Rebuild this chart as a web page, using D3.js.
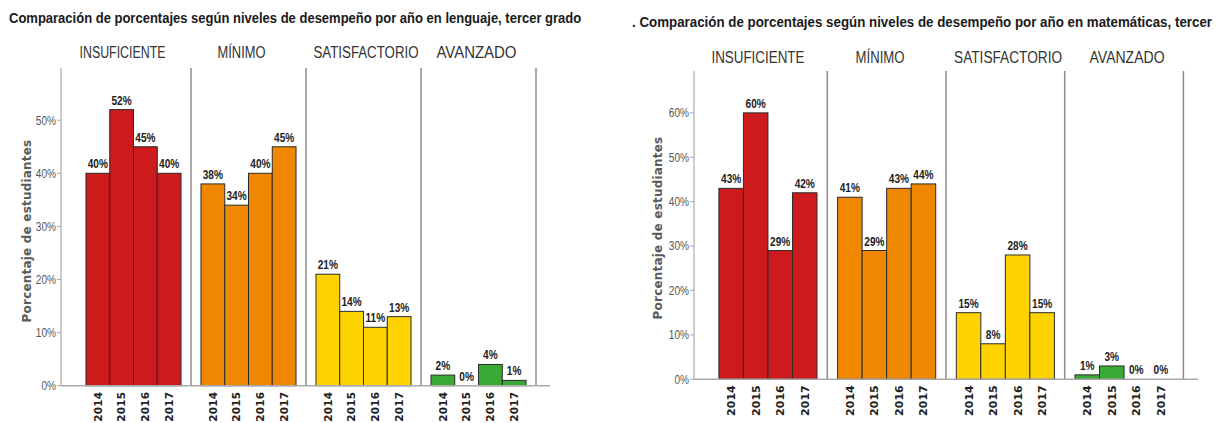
<!DOCTYPE html>
<html>
<head>
<meta charset="utf-8">
<script src="https://cdn.jsdelivr.net/npm/d3@7"></script>
<style>
  html, body { margin: 0; padding: 0; background: #fff; }
  svg { display: block; }
</style>
</head>
<body>
<script>
// ---------------- DATA ----------------
const years = ["2014", "2015", "2016", "2017"];
const levels = ["INSUFICIENTE", "MÍNIMO", "SATISFACTORIO", "AVANZADO"];
const levelColors = ["#CC1A1D", "#EF8800", "#FFD300", "#3AAA35"];

// Lenguaje, tercer grado (percent)
const lenguajeInsuficiente = [40, 52, 45, 40];
const lenguajeMinimo = [38, 34, 40, 45];
const lenguajeSatisfactorio = [21, 14, 11, 13];
const lenguajeAvanzado = [2, 0, 4, 1];

// Matemáticas, tercer grado (percent)
const matInsuficiente = [43, 60, 29, 42];
const matMinimo = [41, 29, 43, 44];
const matSatisfactorio = [15, 8, 28, 15];
const matAvanzado = [1, 3, 0, 0];

const yTicksLenguaje = [0, 10, 20, 30, 40, 50];
const yTicksMat = [0, 10, 20, 30, 40, 50, 60];

const titleLenguaje = "Comparación de porcentajes según niveles de desempeño por año en lenguaje, tercer grado";
const titleMat = ". Comparación de porcentajes según niveles de desempeño por año en matemáticas, tercer";
const yAxisTitle = "Porcentaje de estudiantes";

// ---------------- LAYOUT ----------------
const W = 1222, H = 423;
const svg = d3.select("body").append("svg").attr("width", W).attr("height", H);

const charts = [
  {
    series: [lenguajeInsuficiente, lenguajeMinimo, lenguajeSatisfactorio, lenguajeAvanzado],
    ticks: yTicksLenguaje, yMax: 60,
    title: titleLenguaje, titleX: 9, titleY: 23, titleW: 573,
    axisX: 61, panelStart: 76, panelW: 115, xEnd: 550,
    y0: 385.7, yTop: 67.1, lineTop: 68,
    stripY: 58, stripOffsets: [-11, -7, 2.5, -2], stripW: [86, 48, 105, 80],
    yTitleX: 27, yTitleY: 231,
    xLabelSize: 10.5, xLabelSpacing: 0.2
  },
  {
    series: [matInsuficiente, matMinimo, matSatisfactorio, matAvanzado],
    ticks: yTicksMat, yMax: 69,
    title: titleMat, titleX: 632, titleY: 27, titleW: 581,
    axisX: 694, panelStart: 708.6, panelW: 118.7, xEnd: 1198,
    y0: 379.3, yTop: 72.9, lineTop: 71,
    stripY: 63, stripOffsets: [-10, -6.6, 2.7, 3], stripW: [93, 49, 108, 75],
    yTitleX: 658, yTitleY: 228,
    xLabelSize: 11, xLabelSpacing: 0
  }
];

function narrow(sel, factor) {
  sel.each(function () {
    const w = this.getComputedTextLength();
    this.setAttribute("textLength", (w * factor).toFixed(2));
    this.setAttribute("lengthAdjust", "spacingAndGlyphs");
  });
}
function fitWidth(sel, w) {
  sel.attr("textLength", w).attr("lengthAdjust", "spacingAndGlyphs");
}

const narrowFont = "'Liberation Sans', Arial, sans-serif";

charts.forEach(c => {
  const g = svg.append("g");

  const y = d3.scaleLinear().domain([0, c.yMax]).range([c.y0, c.yTop]);
  const xPanel = d3.scaleBand().domain(levels)
    .range([c.panelStart, c.panelStart + c.panelW * levels.length]).padding(0);
  const xYear = d3.scaleBand().domain(years).range([0, c.panelW])
    .paddingInner(0).paddingOuter(0.42);

  // Title (horizontally condensed via transform so its box is exact)
  const t = g.append("text")
    .attr("x", 0).attr("y", 0)
    .attr("font-family", narrowFont).attr("font-weight", "bold")
    .attr("font-size", 14).attr("fill", "#1a1a1a")
    .text(c.title);
  const natural = t.node().getComputedTextLength();
  t.attr("transform", `translate(${c.titleX},${c.titleY}) scale(${c.titleW / natural},1)`);

  // Strip labels
  g.selectAll(".strip").data(levels).enter().append("text")
    .attr("x", (d, i) => xPanel(d) + c.panelW / 2 + c.stripOffsets[i])
    .attr("y", c.stripY)
    .attr("text-anchor", "middle")
    .attr("font-family", narrowFont).attr("font-size", 16)
    .attr("fill", "#333")
    .text(d => d)
    .each(function (d, i) { fitWidth(d3.select(this), c.stripW[i]); });

  // Y axis line
  g.append("line")
    .attr("x1", c.axisX).attr("x2", c.axisX)
    .attr("y1", c.lineTop).attr("y2", c.y0)
    .attr("stroke", "#bdbdbd").attr("stroke-width", 1.5);

  // Y ticks
  const yt = g.selectAll(".ytick").data(c.ticks).enter().append("g");
  yt.append("line")
    .attr("x1", c.axisX - 4).attr("x2", c.axisX)
    .attr("y1", d => y(d)).attr("y2", d => y(d))
    .attr("stroke", "#aaa").attr("stroke-width", 1);
  yt.append("text")
    .attr("x", c.axisX - 5).attr("y", d => y(d)).attr("dy", "0.36em")
    .attr("text-anchor", "end")
    .attr("font-family", narrowFont).attr("font-size", 12)
    .attr("fill", "#555")
    .text(d => d + "%")
    .call(narrow, 0.84);

  // Y axis title
  g.append("text")
    .attr("transform", `translate(${c.yTitleX},${c.yTitleY}) rotate(-90)`)
    .attr("text-anchor", "middle").attr("dy", "0.35em")
    .attr("font-family", "'DejaVu Sans', sans-serif").attr("font-weight", "bold")
    .attr("font-size", 12).attr("fill", "#5a5a5a")
    .attr("letter-spacing", 0.2)
    .text(yAxisTitle);

  // Panel separators (right borders)
  g.selectAll(".sep").data(levels).enter().append("line")
    .attr("x1", d => xPanel(d) + c.panelW).attr("x2", d => xPanel(d) + c.panelW)
    .attr("y1", c.lineTop).attr("y2", c.y0)
    .attr("stroke", "#8c8c8c").attr("stroke-width", 1.5);

  // Bars + labels
  levels.forEach((lev, li) => {
    const rows = c.series[li].map((v, i) => ({ v, year: years[i] }));
    const pg = g.append("g");
    pg.selectAll("rect.bar").data(rows.filter(d => d.v > 0))
      .enter().append("rect").attr("class", "bar")
      .attr("x", d => xPanel(lev) + xYear(d.year))
      .attr("y", d => y(d.v))
      .attr("width", xYear.bandwidth())
      .attr("height", d => c.y0 - y(d.v))
      .attr("fill", levelColors[li])
      .attr("stroke", "#2b2b2b").attr("stroke-width", 1);
    pg.selectAll("text.lab").data(rows)
      .enter().append("text").attr("class", "lab")
      .attr("x", d => xPanel(lev) + xYear(d.year) + xYear.bandwidth() / 2)
      .attr("y", d => y(d.v) - 5)
      .attr("text-anchor", "middle")
      .attr("font-family", narrowFont).attr("font-weight", "bold")
      .attr("font-size", 12).attr("fill", "#222")
      .text(d => d.v + "%")
      .call(narrow, 0.84);

    // X tick labels (years, rotated)
    pg.selectAll("text.yr").data(years).enter().append("text").attr("class", "yr")
      .attr("transform", d => `translate(${xPanel(lev) + xYear(d) + xYear.bandwidth() / 2},${c.y0 + 6}) rotate(-90)`)
      .attr("text-anchor", "end").attr("dy", "0.36em")
      .attr("font-family", "'DejaVu Sans', sans-serif").attr("font-weight", "bold")
      .attr("font-size", c.xLabelSize).attr("fill", "#222")
      .attr("letter-spacing", c.xLabelSpacing)
      .text(d => d);
  });

  // X axis line
  g.append("line")
    .attr("x1", c.axisX).attr("x2", c.xEnd)
    .attr("y1", c.y0).attr("y2", c.y0)
    .attr("stroke", "#aaa").attr("stroke-width", 1.5);
});
</script>
</body>
</html>
